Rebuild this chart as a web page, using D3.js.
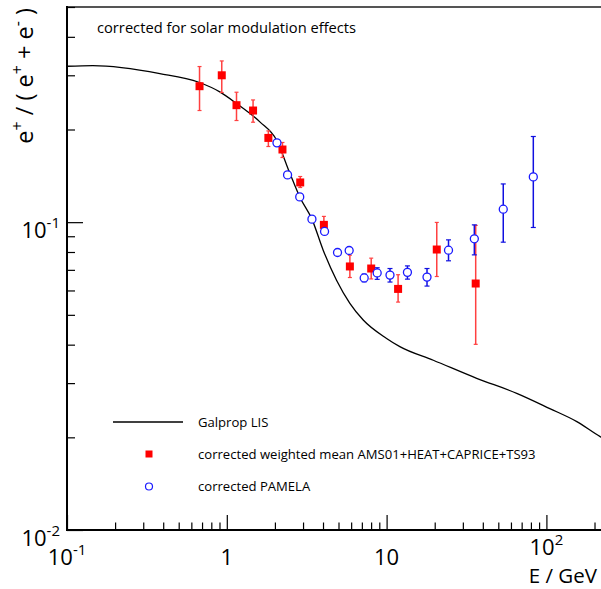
<!DOCTYPE html>
<html>
<head>
<meta charset="utf-8">
<script src="https://cdn.jsdelivr.net/npm/d3@7"></script>
<style>
  body { margin: 0; background: #fff; }
  text { font-family: "Open Sans", "Noto Sans", sans-serif; fill: #000; }
</style>
</head>
<body>
<div class="canvas"></div>
<script>
// corrected weighted mean AMS01+HEAT+CAPRICE+TS93
const redE  = [0.675, 0.93, 1.15, 1.46, 1.82, 2.23, 2.88, 4.05, 5.89, 8.01, 11.8, 20.6, 36.1];
const redV  = [0.2765, 0.300, 0.2399, 0.2305, 0.1878, 0.1722, 0.1346, 0.098, 0.0718, 0.0707, 0.0607, 0.0815, 0.0632];
const redHi = [0.3203, 0.334, 0.2643, 0.2495, 0.1979, 0.1815, 0.1407, 0.1044, 0.0781, 0.0764, 0.0675, 0.0998, 0.0976];
const redLo = [0.2305, 0.2637, 0.2139, 0.2112, 0.1761, 0.1622, 0.1296, 0.0935, 0.0661, 0.0654, 0.055, 0.0666, 0.0401];

// corrected PAMELA
const pamE  = [2.06, 2.40, 2.86, 3.41, 4.09, 4.93, 5.83, 7.24, 8.73, 10.5, 13.5, 17.9, 24.4, 35.4, 53.7, 82.8];
const pamV  = [0.181, 0.1424, 0.1208, 0.1023, 0.0933, 0.0797, 0.0809, 0.0659, 0.0684, 0.0673, 0.0687, 0.0663, 0.0811, 0.0883, 0.1102, 0.1403];
const pamHi = [0.183, 0.144, 0.1222, 0.1035, 0.0944, 0.0806, 0.0818, 0.0678, 0.0711, 0.0707, 0.0721, 0.0707, 0.0876, 0.098, 0.1331, 0.1898];
const pamLo = [0.179, 0.1408, 0.1194, 0.1011, 0.0922, 0.0788, 0.080, 0.064, 0.0652, 0.0639, 0.0653, 0.062, 0.0749, 0.0783, 0.0861, 0.0961];

// Galprop LIS
const lisE = [0.1, 0.145, 0.381, 0.668, 0.904, 1.15, 1.61, 2.05, 2.48, 2.86, 3.41, 4.01, 4.86, 5.89, 7.14, 10.0, 12.1, 19.6, 36.6, 65.2, 105, 155, 217, 250];
const lisV = [0.321, 0.3227, 0.304, 0.2848, 0.265, 0.243, 0.2117, 0.1846, 0.1442, 0.1208, 0.1023, 0.0811, 0.0648, 0.0545, 0.0481, 0.0419, 0.0394, 0.0356, 0.0311, 0.0278, 0.0248, 0.0225, 0.0201, 0.0193];

const xMajor = [0.1, 1, 10, 100];
const xMajorLabels = [['10', '-1'], ['1', ''], ['10', ''], ['10', '2']];
const yMajor = [0.01, 0.1];
const yMajorLabels = [['10', '-2'], ['10', '-1']];

const dims = { width: 601, height: 589 };
const frame = { left: 67, right: 610, top: 7, bottom: 530 };

const svg = d3.select('.canvas')
    .append('svg')
    .attr('width', dims.width)
    .attr('height', dims.height);

const x = d3.scaleLog().domain([0.1, 250]).range([frame.left, frame.right]);
const y = d3.scaleLog().domain([0.01, 0.5]).range([frame.bottom, frame.top]);

// minor tick values, 2..9 per decade
const minorX = [];
[0.1, 1, 10, 100].forEach(d => { for (let k = 2; k <= 9; k++) if (d * k <= 250) minorX.push(d * k); });
const minorY = [];
[0.01, 0.1].forEach(d => { for (let k = 2; k <= 9; k++) if (d * k <= 0.5) minorY.push(d * k); });

svg.append('defs').append('clipPath').attr('id', 'plotclip')
  .append('rect')
    .attr('x', frame.left).attr('y', frame.top)
    .attr('width', frame.right - frame.left).attr('height', frame.bottom - frame.top);

// frame top line
svg.append('line')
    .attr('x1', frame.left).attr('x2', frame.right)
    .attr('y1', frame.top).attr('y2', frame.top)
    .attr('stroke', '#555').attr('stroke-width', 2);

// axes (ticks pointing into the frame)
const xAxisMinor = d3.axisBottom(x).tickValues(minorX).tickSize(-7.5).tickFormat('');
const xAxisMajor = d3.axisBottom(x).tickValues(xMajor).tickSize(-15).tickFormat('');
const yAxisMinor = d3.axisLeft(y).tickValues(minorY).tickSize(-8).tickFormat('');
const yAxisMajor = d3.axisLeft(y).tickValues(yMajor).tickSize(-16).tickFormat('');

[xAxisMinor, xAxisMajor].forEach(ax => {
  svg.append('g').attr('transform', `translate(0, ${frame.bottom})`).call(ax)
    .call(g => g.select('.domain').remove());
});
[yAxisMinor, yAxisMajor].forEach(ax => {
  svg.append('g').attr('transform', `translate(${frame.left}, 0)`).call(ax)
    .call(g => g.select('.domain').remove());
});
svg.selectAll('.tick line').attr('stroke', '#000').attr('stroke-width', 1.2);

svg.append('line')
    .attr('x1', frame.left).attr('x2', frame.right)
    .attr('y1', frame.bottom).attr('y2', frame.bottom)
    .attr('stroke', '#000').attr('stroke-width', 2);
svg.append('line')
    .attr('x1', frame.left).attr('x2', frame.left)
    .attr('y1', frame.top - 1).attr('y2', frame.bottom + 1)
    .attr('stroke', '#000').attr('stroke-width', 2);

// tick labels with superscripts
const xLab = svg.append('g');
xMajor.forEach((v, i) => {
  const t = xLab.append('text')
      .attr('x', x(v)).attr('y', i === 3 ? 555 : 565)
      .attr('text-anchor', 'middle')
      .attr('font-size', 22);
  t.append('tspan').text(xMajorLabels[i][0]);
  if (xMajorLabels[i][1]) {
    t.append('tspan').attr('dy', -10).attr('font-size', 15).text(xMajorLabels[i][1]);
  }
});

const yLab = svg.append('g');
yMajor.forEach((v, i) => {
  const t = yLab.append('text')
      .attr('x', 60).attr('y', y(v) + 16)
      .attr('text-anchor', 'end')
      .attr('font-size', 22);
  t.append('tspan').text(yMajorLabels[i][0]);
  t.append('tspan').attr('dy', -10).attr('font-size', 15).text(yMajorLabels[i][1]);
});

// axis titles
svg.append('text')
    .attr('x', 597).attr('y', 583)
    .attr('text-anchor', 'end')
    .attr('font-size', 20.5)
    .text('E / GeV');

const yt = svg.append('text')
    .attr('transform', 'translate(33, 8) rotate(-90)')
    .attr('text-anchor', 'end')
    .attr('font-size', 23.5);
yt.append('tspan').text('e');
yt.append('tspan').attr('dy', -10).attr('font-size', 16).text('+');
yt.append('tspan').attr('dy', 10).text(' / ( e');
yt.append('tspan').attr('dy', -10).attr('font-size', 16).text('+');
yt.append('tspan').attr('dy', 10).text(' + e');
yt.append('tspan').attr('dy', -10).attr('font-size', 16).text('-');
yt.append('tspan').attr('dy', 10).text(' )');

// title note
svg.append('text')
    .attr('x', 97).attr('y', 33)
    .attr('font-size', 14.7)
    .text('corrected for solar modulation effects');

const plot = svg.append('g').attr('clip-path', 'url(#plotclip)');

// Galprop LIS curve
const line = d3.line()
    .x(d => x(d[0]))
    .y(d => y(d[1]))
    .curve(d3.curveMonotoneX);

plot.append('path')
    .datum(lisE.map((e, i) => [e, lisV[i]]))
    .attr('d', line)
    .attr('fill', 'none')
    .attr('stroke', '#000')
    .attr('stroke-width', 1.3);

// error bars helper
const drawErrors = (g, E, lo, hi, color, cap) => {
  E.forEach((e, i) => {
    g.append('line')
        .attr('x1', x(e)).attr('x2', x(e))
        .attr('y1', y(lo[i])).attr('y2', y(hi[i]))
        .attr('stroke', color).attr('stroke-width', 1.5);
    [lo[i], hi[i]].forEach(v => {
      g.append('line')
          .attr('x1', x(e) - cap).attr('x2', x(e) + cap)
          .attr('y1', y(v)).attr('y2', y(v))
          .attr('stroke', color).attr('stroke-width', 1.2);
    });
  });
};

const red = plot.append('g');
drawErrors(red, redE, redLo, redHi, '#ff4040', 2);
red.selectAll('rect')
    .data(redE.map((e, i) => [e, redV[i]]))
    .enter()
    .append('rect')
      .attr('x', d => x(d[0]) - 4)
      .attr('y', d => y(d[1]) - 4)
      .attr('width', 8).attr('height', 8)
      .attr('fill', '#ff0000');

const blue = plot.append('g');
drawErrors(blue, pamE, pamLo, pamHi, '#1010e0', 2.5);
blue.selectAll('circle')
    .data(pamE.map((e, i) => [e, pamV[i]]))
    .enter()
    .append('circle')
      .attr('cx', d => x(d[0]))
      .attr('cy', d => y(d[1]))
      .attr('r', 4)
      .attr('fill', '#fff')
      .attr('stroke', '#1a1aff')
      .attr('stroke-width', 1.3);

// legend
const legend = svg.append('g');
legend.append('line')
    .attr('x1', 113).attr('x2', 183)
    .attr('y1', 422).attr('y2', 422)
    .attr('stroke', '#000').attr('stroke-width', 1.3);
legend.append('rect')
    .attr('x', 145.5).attr('y', 450.5)
    .attr('width', 7).attr('height', 7)
    .attr('fill', '#ff0000');
legend.append('circle')
    .attr('cx', 149).attr('cy', 486.5).attr('r', 3.5)
    .attr('fill', '#fff').attr('stroke', '#1a1aff').attr('stroke-width', 1.2);

const legendText = ['Galprop LIS', 'corrected weighted mean AMS01+HEAT+CAPRICE+TS93', 'corrected PAMELA'];
const legendY = [426.5, 458.5, 491];
legend.selectAll('text.leg')
    .data(legendText)
    .enter()
    .append('text')
      .attr('class', 'leg')
      .attr('x', 198)
      .attr('y', (d, i) => legendY[i])
      .attr('font-size', 13.1)
      .text(d => d);
</script>
</body>
</html>
